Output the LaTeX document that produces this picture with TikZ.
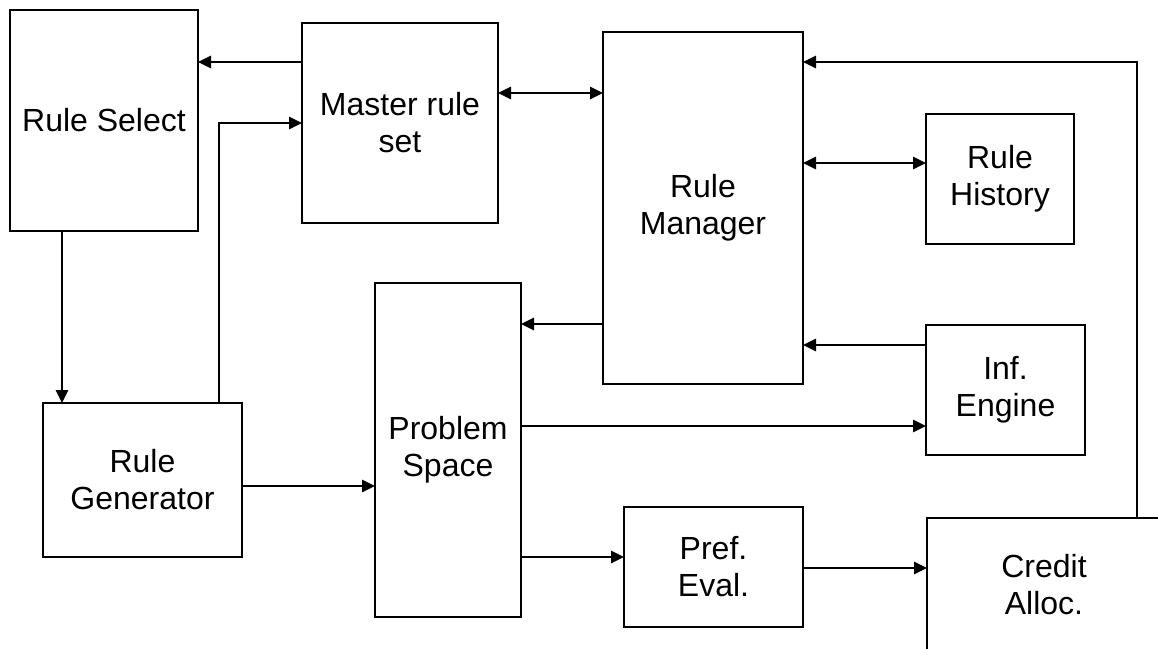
\documentclass[tikz,border=0pt]{standalone}
\usepackage{fontspec}
\setmainfont{Liberation Sans}
\usetikzlibrary{arrows.meta}
\begin{document}
\begin{tikzpicture}[x=1pt,y=-1pt,
  blk/.style={draw=black,line width=2pt,fill=none,inner sep=0pt,outer sep=0pt,
    align=center,font=\fontsize{32}{37}\selectfont},
  arr/.style={line width=2.8pt,-{Triangle[length=13pt,width=12pt]}},
  dbl/.style={line width=2.8pt,{Triangle[length=13pt,width=12pt]}-{Triangle[length=13pt,width=12pt]}}]
\useasboundingbox (0,0) rectangle (1158,648);
\fill[white] (0,0) rectangle (1158,648);
\clip (0,0) rectangle (1158,648);
% helper rows / columns
\coordinate (h62) at (0,62);
\coordinate (h93) at (0,93);
\coordinate (h123) at (0,123);
\coordinate (h163) at (0,163);
\coordinate (h324) at (0,324);
\coordinate (h345) at (0,345);
\coordinate (h426) at (0,426);
\coordinate (h486) at (0,486);
\coordinate (h557) at (0,557);
\coordinate (h568) at (0,568);
\coordinate (v62) at (62,0);
\coordinate (v219) at (219,0);
\coordinate (v1137) at (1137,0);
% blocks
\node[blk,minimum width=188,minimum height=221] (rs) at (104,120.5) {Rule Select};
\node[blk,minimum width=196,minimum height=200] (master) at (400,123) {Master rule\\set};
\node[blk,minimum width=200,minimum height=352] (mgr) at (703,208) {Rule\\Manager};
\node[blk,minimum width=148,minimum height=130] (hist) at (1000,179) {Rule\\History};
\node[blk,minimum width=159,minimum height=130] (inf) at (1005.5,390) {Inf.\\Engine};
\node[blk,minimum width=199,minimum height=154] (gen) at (142.5,480) {Rule\\Generator};
\node[blk,minimum width=146,minimum height=334] (prob) at (448,450) {Problem\\Space};
\node[blk,minimum width=179,minimum height=120] (pref) at (713.5,567) {Pref.\\Eval.};
\node[blk,minimum width=234,minimum height=133] (credit) at (1044,584.5) {Credit\\Alloc.};
% connectors
\draw[arr] (master.west |- h62) -- (rs.east |- h62);
\draw[arr] (gen.north -| v219) |- (master.west |- h123);
\draw[dbl] (master.east |- h93) -- (mgr.west |- h93);
\draw[arr] (credit.north -| v1137) |- (mgr.east |- h62);
\draw[dbl] (mgr.east |- h163) -- (hist.west |- h163);
\draw[arr] (mgr.west |- h324) -- (prob.east |- h324);
\draw[arr] (inf.west |- h345) -- (mgr.east |- h345);
\draw[arr] (prob.east |- h426) -- (inf.west |- h426);
\draw[arr] (rs.south -| v62) -- (gen.north -| v62);
\draw[arr] (gen.east |- h486) -- (prob.west |- h486);
\draw[arr] (prob.east |- h557) -- (pref.west |- h557);
\draw[arr] (pref.east |- h568) -- (credit.west |- h568);
\end{tikzpicture}
\end{document}
